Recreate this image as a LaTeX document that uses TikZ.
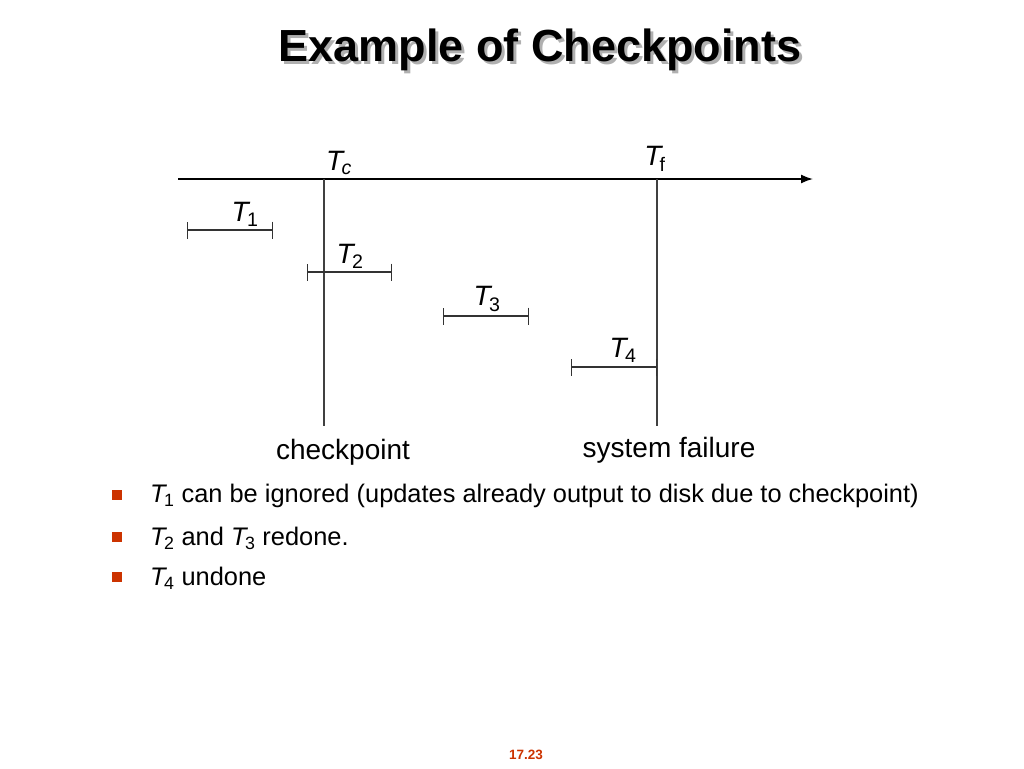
\documentclass[tikz,border=0pt]{standalone}
\usepackage{fontspec}
\setmainfont{Liberation Sans}
\usetikzlibrary{arrows.meta,positioning,calc}
\definecolor{bulred}{HTML}{CC3300}
\definecolor{shade}{HTML}{B0B0B0}
\newcommand{\tx}[1]{\textit{T}\kern-0.12em\textsubscript{#1}}
\tikzset{
  lbl/.style={inner sep=0pt, font=\fontsize{28}{32}\selectfont},
  tlbl/.style={inner sep=0pt, font=\fontsize{28}{32}\selectfont},
  txbar/.style={{Bar[width=17pt]}-{Bar[width=17pt]}, line width=1.1pt, draw=black!80},
  mark line/.style={line width=1.1pt, draw=black!75},
  bul/.style={rectangle, fill=bulred, minimum size=10pt, inner sep=0pt},
  btext/.style={anchor=west, inner sep=0pt, font=\fontsize{25.4}{28}\selectfont},
}
\begin{document}
\begin{tikzpicture}[x=1pt, y=-1pt]
  \useasboundingbox (0,0) rectangle (1024,768);
  % title
  \node[inner sep=0pt, text=shade, font=\fontsize{45}{50}\bfseries] (titleshadow) at (543,53) {Example of Checkpoints};
  \node[inner sep=0pt, font=\fontsize{45}{50}\bfseries] (title) at (540,50) {Example of Checkpoints};
  % time axis
  \coordinate (axs) at (178,179);
  \coordinate (axe) at (813,179);
  \draw[-{Latex[length=12pt, width=9pt]}, line width=1.6pt] (axs) -- (axe);
  \coordinate (ctop) at (324,179);  \coordinate (cbot) at (324,426);
  \coordinate (ftop) at (657,179);  \coordinate (fbot) at (657,426);
  \draw[mark line] (ctop) -- (cbot);
  \draw[mark line] (ftop) -- (fbot);
  \node[tlbl] (tc) at (339,163) {\tx{\textit{c}}};
  \node[tlbl] (tf) at (655,159) {\tx{f}};
  % transactions
  \coordinate (t1a) at (187,230); \coordinate (t1b) at (273,230);
  \coordinate (t2a) at (307,272); \coordinate (t2b) at (392,272);
  \coordinate (t3a) at (443,316); \coordinate (t3b) at (529,316);
  \coordinate (t4a) at (571,367); \coordinate (t4b) at (657,367);
  \draw[txbar] (t1a) -- (t1b);
  \draw[txbar] (t2a) -- (t2b);
  \draw[txbar] (t3a) -- (t3b);
  \draw[txbar] (t4a) -- (t4b);
  \node[tlbl] (t1) at (245,214) {\tx{1}};
  \node[tlbl] (t2) at (350,256) {\tx{2}};
  \node[tlbl] (t3) at (487,299) {\tx{3}};
  \node[tlbl] (t4) at (623,350) {\tx{4}};
  \node[lbl] (chk) at (343,452) {checkpoint};
  \node[lbl] (fail) at (669,450) {system failure};
  % bullets
  \node[bul] (b1) at (117,495) {};
  \node[bul] (b2) at (117,537) {};
  \node[bul] (b3) at (117,577) {};
  \node[btext] (l1) at (150,496) {\tx{1} can be ignored (updates already output to disk due to checkpoint)};
  \node[btext] (l2) at (150,538) {\tx{2} and \tx{3} redone.};
  \node[btext] (l3) at (150,578) {\tx{4} undone};
  \node[inner sep=0pt, text=bulred, font=\fontsize{13.5}{15}\bfseries] (pg) at (526,755) {17.23};
\end{tikzpicture}
\end{document}
